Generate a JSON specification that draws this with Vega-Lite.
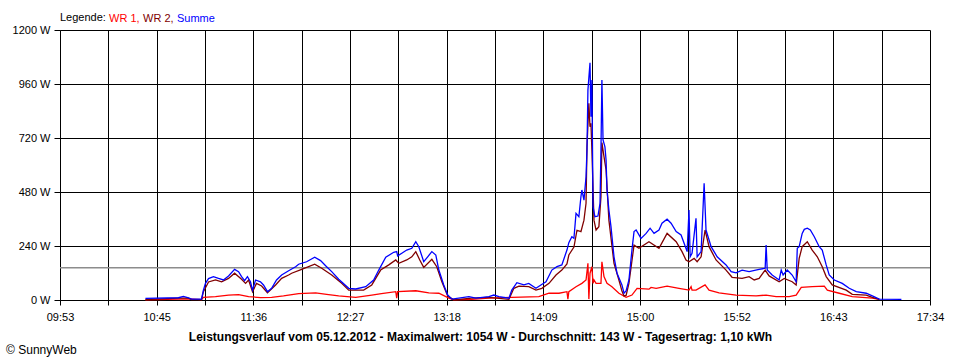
{
  "$schema": "https://vega.github.io/schema/vega-lite/v6.json",
  "width": 870,
  "height": 270,
  "autosize": {"type": "none"},
  "padding": {"left": 60, "top": 30, "right": 30, "bottom": 60},
  "background": "white",
  "config": {
    "font": "Liberation Sans",
    "view": {"stroke": null},
    "axis": {"labelFont": "Liberation Sans", "labelFontSize": 11, "labelColor": "#000", "tickColor": "#000", "domainColor": "#000", "gridColor": "#000", "gridOpacity": 1, "gridWidth": 1, "tickWidth": 1, "domainWidth": 1, "titleColor": "#000", "titleFont": "Liberation Sans"}
  },
  "title": {"text": "© SunnyWeb", "orient": "bottom", "anchor": "start", "frame": "bounds", "fontSize": 12, "fontWeight": "normal", "font": "Liberation Sans", "color": "#000", "offset": 3, "dx": -6},
  "datasets": {
    "avg": [{"t": 593.9, "w": 143}, {"t": 1054.34, "w": 143}],
    "p": [
      {"s":"WR 1","t":639.1,"w":1},{"s":"WR 1","t":656.6,"w":4},{"s":"WR 1","t":661.9,"w":5},{"s":"WR 1","t":668.8,"w":2},{"s":"WR 1","t":669.8,"w":12},{"s":"WR 1","t":676.2,"w":15},{"s":"WR 1","t":683.1,"w":22},{"s":"WR 1","t":688.4,"w":24},{"s":"WR 1","t":693.7,"w":15},{"s":"WR 1","t":700.0,"w":11},{"s":"WR 1","t":705.9,"w":12},{"s":"WR 1","t":712.2,"w":18},{"s":"WR 1","t":720.2,"w":28},{"s":"WR 1","t":729.2,"w":32},{"s":"WR 1","t":735.0,"w":25},{"s":"WR 1","t":741.4,"w":18},{"s":"WR 1","t":750.4,"w":12},{"s":"WR 1","t":758.9,"w":22},{"s":"WR 1","t":764.0,"w":28},{"s":"WR 1","t":771.6,"w":37},{"s":"WR 1","t":772.1,"w":8},{"s":"WR 1","t":772.6,"w":37},{"s":"WR 1","t":782.2,"w":41},{"s":"WR 1","t":789.1,"w":32},{"s":"WR 1","t":794.4,"w":30},{"s":"WR 1","t":799.7,"w":8},{"s":"WR 1","t":802.3,"w":1},{"s":"WR 1","t":811.8,"w":3},{"s":"WR 1","t":820.9,"w":8},{"s":"WR 1","t":833.0,"w":12},{"s":"WR 1","t":847.3,"w":15},{"s":"WR 1","t":852.7,"w":30},{"s":"WR 1","t":858.0,"w":30},{"s":"WR 1","t":862.2,"w":37},{"s":"WR 1","t":862.7,"w":4},{"s":"WR 1","t":863.2,"w":37},{"s":"WR 1","t":867.0,"w":59},{"s":"WR 1","t":870.1,"w":74},{"s":"WR 1","t":872.3,"w":89},{"s":"WR 1","t":873.3,"w":163},{"s":"WR 1","t":873.8,"w":4},{"s":"WR 1","t":874.4,"w":119},{"s":"WR 1","t":875.4,"w":148},{"s":"WR 1","t":876.0,"w":74},{"s":"WR 1","t":876.5,"w":89},{"s":"WR 1","t":877.6,"w":74},{"s":"WR 1","t":880.2,"w":74},{"s":"WR 1","t":880.7,"w":170},{"s":"WR 1","t":881.8,"w":104},{"s":"WR 1","t":883.4,"w":74},{"s":"WR 1","t":886.0,"w":59},{"s":"WR 1","t":889.7,"w":30},{"s":"WR 1","t":893.5,"w":12},{"s":"WR 1","t":896.6,"w":22},{"s":"WR 1","t":899.3,"w":52},{"s":"WR 1","t":905.6,"w":48},{"s":"WR 1","t":906.7,"w":56},{"s":"WR 1","t":909.4,"w":52},{"s":"WR 1","t":915.2,"w":62},{"s":"WR 1","t":921.5,"w":52},{"s":"WR 1","t":926.8,"w":44},{"s":"WR 1","t":927.9,"w":59},{"s":"WR 1","t":928.4,"w":44},{"s":"WR 1","t":930.5,"w":44},{"s":"WR 1","t":935.3,"w":67},{"s":"WR 1","t":937.4,"w":44},{"s":"WR 1","t":942.7,"w":32},{"s":"WR 1","t":951.7,"w":22},{"s":"WR 1","t":962.3,"w":18},{"s":"WR 1","t":967.6,"w":22},{"s":"WR 1","t":972.9,"w":15},{"s":"WR 1","t":979.8,"w":15},{"s":"WR 1","t":983.5,"w":22},{"s":"WR 1","t":986.2,"w":56},{"s":"WR 1","t":992.0,"w":59},{"s":"WR 1","t":998.4,"w":62},{"s":"WR 1","t":1000.0,"w":44},{"s":"WR 1","t":1006.3,"w":30},{"s":"WR 1","t":1013.2,"w":15},{"s":"WR 1","t":1023.8,"w":8},{"s":"WR 1","t":1027.5,"w":3},
      {"s":"WR 2","t":639.1,"w":2},{"s":"WR 2","t":656.6,"w":8},{"s":"WR 2","t":661.9,"w":8},{"s":"WR 2","t":663.5,"w":2},{"s":"WR 2","t":668.8,"w":2},{"s":"WR 2","t":669.8,"w":37},{"s":"WR 2","t":672.5,"w":80},{"s":"WR 2","t":676.2,"w":89},{"s":"WR 2","t":679.4,"w":81},{"s":"WR 2","t":683.1,"w":96},{"s":"WR 2","t":686.3,"w":119},{"s":"WR 2","t":690.0,"w":92},{"s":"WR 2","t":692.1,"w":74},{"s":"WR 2","t":693.7,"w":89},{"s":"WR 2","t":695.8,"w":37},{"s":"WR 2","t":697.9,"w":74},{"s":"WR 2","t":700.6,"w":62},{"s":"WR 2","t":703.7,"w":32},{"s":"WR 2","t":708.0,"w":67},{"s":"WR 2","t":711.2,"w":96},{"s":"WR 2","t":714.9,"w":111},{"s":"WR 2","t":716.5,"w":119},{"s":"WR 2","t":721.8,"w":136},{"s":"WR 2","t":728.7,"w":159},{"s":"WR 2","t":732.4,"w":141},{"s":"WR 2","t":737.7,"w":111},{"s":"WR 2","t":743.0,"w":74},{"s":"WR 2","t":746.7,"w":44},{"s":"WR 2","t":754.6,"w":44},{"s":"WR 2","t":758.9,"w":67},{"s":"WR 2","t":763.6,"w":133},{"s":"WR 2","t":767.9,"w":156},{"s":"WR 2","t":771.6,"w":178},{"s":"WR 2","t":773.2,"w":163},{"s":"WR 2","t":777.4,"w":178},{"s":"WR 2","t":780.1,"w":192},{"s":"WR 2","t":782.2,"w":215},{"s":"WR 2","t":784.3,"w":178},{"s":"WR 2","t":786.4,"w":145},{"s":"WR 2","t":790.7,"w":181},{"s":"WR 2","t":793.3,"w":148},{"s":"WR 2","t":796.0,"w":81},{"s":"WR 2","t":799.1,"w":18},{"s":"WR 2","t":802.3,"w":1},{"s":"WR 2","t":811.8,"w":8},{"s":"WR 2","t":820.9,"w":12},{"s":"WR 2","t":831.5,"w":3},{"s":"WR 2","t":834.1,"w":52},{"s":"WR 2","t":836.8,"w":62},{"s":"WR 2","t":842.0,"w":59},{"s":"WR 2","t":845.8,"w":44},{"s":"WR 2","t":848.9,"w":52},{"s":"WR 2","t":852.7,"w":74},{"s":"WR 2","t":856.4,"w":111},{"s":"WR 2","t":859.5,"w":133},{"s":"WR 2","t":862.2,"w":160},{"s":"WR 2","t":863.2,"w":200},{"s":"WR 2","t":865.9,"w":235},{"s":"WR 2","t":867.5,"w":310},{"s":"WR 2","t":869.6,"w":304},{"s":"WR 2","t":871.2,"w":355},{"s":"WR 2","t":872.3,"w":430},{"s":"WR 2","t":872.8,"w":681},{"s":"WR 2","t":873.8,"w":874},{"s":"WR 2","t":874.4,"w":770},{"s":"WR 2","t":874.9,"w":785},{"s":"WR 2","t":875.4,"w":667},{"s":"WR 2","t":876.5,"w":355},{"s":"WR 2","t":877.6,"w":311},{"s":"WR 2","t":879.1,"w":326},{"s":"WR 2","t":880.2,"w":459},{"s":"WR 2","t":880.7,"w":700},{"s":"WR 2","t":881.8,"w":637},{"s":"WR 2","t":882.9,"w":578},{"s":"WR 2","t":884.4,"w":355},{"s":"WR 2","t":887.1,"w":163},{"s":"WR 2","t":889.7,"w":89},{"s":"WR 2","t":891.3,"w":40},{"s":"WR 2","t":892.4,"w":18},{"s":"WR 2","t":893.5,"w":20},{"s":"WR 2","t":895.0,"w":74},{"s":"WR 2","t":897.7,"w":244},{"s":"WR 2","t":900.3,"w":230},{"s":"WR 2","t":905.6,"w":259},{"s":"WR 2","t":910.9,"w":230},{"s":"WR 2","t":915.2,"w":296},{"s":"WR 2","t":920.0,"w":259},{"s":"WR 2","t":923.1,"w":215},{"s":"WR 2","t":925.2,"w":178},{"s":"WR 2","t":926.8,"w":170},{"s":"WR 2","t":929.5,"w":185},{"s":"WR 2","t":931.1,"w":170},{"s":"WR 2","t":933.2,"w":192},{"s":"WR 2","t":935.3,"w":311},{"s":"WR 2","t":937.4,"w":237},{"s":"WR 2","t":941.1,"w":178},{"s":"WR 2","t":946.4,"w":133},{"s":"WR 2","t":949.6,"w":101},{"s":"WR 2","t":954.9,"w":96},{"s":"WR 2","t":958.6,"w":104},{"s":"WR 2","t":961.3,"w":89},{"s":"WR 2","t":963.9,"w":96},{"s":"WR 2","t":967.1,"w":133},{"s":"WR 2","t":969.2,"w":107},{"s":"WR 2","t":974.5,"w":81},{"s":"WR 2","t":977.2,"w":96},{"s":"WR 2","t":981.4,"w":81},{"s":"WR 2","t":983.5,"w":67},{"s":"WR 2","t":985.1,"w":185},{"s":"WR 2","t":986.7,"w":237},{"s":"WR 2","t":989.4,"w":259},{"s":"WR 2","t":992.0,"w":222},{"s":"WR 2","t":994.7,"w":192},{"s":"WR 2","t":997.3,"w":148},{"s":"WR 2","t":999.4,"w":104},{"s":"WR 2","t":1002.6,"w":67},{"s":"WR 2","t":1010.0,"w":44},{"s":"WR 2","t":1013.2,"w":25},{"s":"WR 2","t":1020.6,"w":22},{"s":"WR 2","t":1023.8,"w":12},{"s":"WR 2","t":1027.5,"w":3},
      {"s":"Summe","t":639.1,"w":7},{"s":"Summe","t":656.6,"w":10},{"s":"Summe","t":659.2,"w":16},{"s":"Summe","t":661.9,"w":10},{"s":"Summe","t":663.5,"w":4},{"s":"Summe","t":668.8,"w":4},{"s":"Summe","t":669.8,"w":44},{"s":"Summe","t":670.9,"w":74},{"s":"Summe","t":672.5,"w":95},{"s":"Summe","t":675.1,"w":104},{"s":"Summe","t":677.8,"w":96},{"s":"Summe","t":680.4,"w":89},{"s":"Summe","t":683.1,"w":107},{"s":"Summe","t":686.3,"w":136},{"s":"Summe","t":688.4,"w":126},{"s":"Summe","t":690.0,"w":104},{"s":"Summe","t":691.6,"w":86},{"s":"Summe","t":693.1,"w":104},{"s":"Summe","t":694.7,"w":81},{"s":"Summe","t":695.8,"w":44},{"s":"Summe","t":697.4,"w":89},{"s":"Summe","t":700.0,"w":81},{"s":"Summe","t":701.6,"w":67},{"s":"Summe","t":703.7,"w":37},{"s":"Summe","t":705.9,"w":52},{"s":"Summe","t":708.5,"w":89},{"s":"Summe","t":711.2,"w":111},{"s":"Summe","t":714.9,"w":130},{"s":"Summe","t":718.6,"w":148},{"s":"Summe","t":720.2,"w":159},{"s":"Summe","t":724.4,"w":170},{"s":"Summe","t":728.7,"w":190},{"s":"Summe","t":731.8,"w":175},{"s":"Summe","t":735.0,"w":148},{"s":"Summe","t":737.7,"w":126},{"s":"Summe","t":741.4,"w":92},{"s":"Summe","t":746.7,"w":52},{"s":"Summe","t":750.4,"w":49},{"s":"Summe","t":755.7,"w":59},{"s":"Summe","t":759.9,"w":89},{"s":"Summe","t":762.6,"w":133},{"s":"Summe","t":766.3,"w":190},{"s":"Summe","t":770.5,"w":212},{"s":"Summe","t":772.1,"w":215},{"s":"Summe","t":772.6,"w":196},{"s":"Summe","t":774.8,"w":208},{"s":"Summe","t":777.4,"w":222},{"s":"Summe","t":780.1,"w":230},{"s":"Summe","t":782.2,"w":259},{"s":"Summe","t":783.8,"w":237},{"s":"Summe","t":786.4,"w":170},{"s":"Summe","t":788.5,"w":192},{"s":"Summe","t":790.7,"w":215},{"s":"Summe","t":792.8,"w":200},{"s":"Summe","t":794.4,"w":133},{"s":"Summe","t":797.0,"w":67},{"s":"Summe","t":799.1,"w":22},{"s":"Summe","t":801.3,"w":4},{"s":"Summe","t":810.3,"w":15},{"s":"Summe","t":814.0,"w":8},{"s":"Summe","t":820.9,"w":15},{"s":"Summe","t":823.5,"w":22},{"s":"Summe","t":826.2,"w":15},{"s":"Summe","t":831.5,"w":8},{"s":"Summe","t":833.0,"w":44},{"s":"Summe","t":835.7,"w":77},{"s":"Summe","t":839.4,"w":67},{"s":"Summe","t":842.0,"w":74},{"s":"Summe","t":845.8,"w":52},{"s":"Summe","t":848.4,"w":67},{"s":"Summe","t":851.1,"w":81},{"s":"Summe","t":854.2,"w":133},{"s":"Summe","t":856.9,"w":148},{"s":"Summe","t":859.5,"w":156},{"s":"Summe","t":862.2,"w":222},{"s":"Summe","t":863.2,"w":255},{"s":"Summe","t":864.8,"w":281},{"s":"Summe","t":865.9,"w":274},{"s":"Summe","t":867.0,"w":385},{"s":"Summe","t":868.5,"w":370},{"s":"Summe","t":869.6,"w":459},{"s":"Summe","t":870.1,"w":489},{"s":"Summe","t":871.2,"w":444},{"s":"Summe","t":872.3,"w":548},{"s":"Summe","t":872.8,"w":667},{"s":"Summe","t":873.3,"w":933},{"s":"Summe","t":874.4,"w":1054},{"s":"Summe","t":874.9,"w":815},{"s":"Summe","t":875.4,"w":978},{"s":"Summe","t":876.0,"w":415},{"s":"Summe","t":877.0,"w":370},{"s":"Summe","t":878.6,"w":373},{"s":"Summe","t":879.7,"w":430},{"s":"Summe","t":880.2,"w":667},{"s":"Summe","t":880.7,"w":978},{"s":"Summe","t":881.3,"w":711},{"s":"Summe","t":882.3,"w":681},{"s":"Summe","t":882.9,"w":622},{"s":"Summe","t":883.4,"w":489},{"s":"Summe","t":884.4,"w":400},{"s":"Summe","t":885.5,"w":326},{"s":"Summe","t":887.1,"w":192},{"s":"Summe","t":888.7,"w":119},{"s":"Summe","t":891.3,"w":67},{"s":"Summe","t":892.4,"w":30},{"s":"Summe","t":893.5,"w":40},{"s":"Summe","t":895.0,"w":89},{"s":"Summe","t":896.6,"w":222},{"s":"Summe","t":897.7,"w":304},{"s":"Summe","t":898.8,"w":311},{"s":"Summe","t":901.4,"w":274},{"s":"Summe","t":904.1,"w":296},{"s":"Summe","t":906.2,"w":319},{"s":"Summe","t":908.3,"w":296},{"s":"Summe","t":910.9,"w":311},{"s":"Summe","t":912.5,"w":341},{"s":"Summe","t":915.2,"w":359},{"s":"Summe","t":917.3,"w":341},{"s":"Summe","t":920.0,"w":304},{"s":"Summe","t":922.6,"w":289},{"s":"Summe","t":924.2,"w":252},{"s":"Summe","t":925.8,"w":215},{"s":"Summe","t":926.8,"w":400},{"s":"Summe","t":927.4,"w":192},{"s":"Summe","t":928.4,"w":208},{"s":"Summe","t":930.5,"w":363},{"s":"Summe","t":931.1,"w":192},{"s":"Summe","t":933.2,"w":215},{"s":"Summe","t":934.8,"w":519},{"s":"Summe","t":935.8,"w":311},{"s":"Summe","t":938.5,"w":237},{"s":"Summe","t":941.7,"w":192},{"s":"Summe","t":946.4,"w":156},{"s":"Summe","t":949.1,"w":126},{"s":"Summe","t":951.7,"w":121},{"s":"Summe","t":954.9,"w":133},{"s":"Summe","t":958.6,"w":126},{"s":"Summe","t":963.9,"w":136},{"s":"Summe","t":967.1,"w":141},{"s":"Summe","t":967.6,"w":244},{"s":"Summe","t":968.2,"w":133},{"s":"Summe","t":970.8,"w":111},{"s":"Summe","t":974.5,"w":89},{"s":"Summe","t":975.6,"w":133},{"s":"Summe","t":976.6,"w":111},{"s":"Summe","t":978.8,"w":133},{"s":"Summe","t":981.4,"w":111},{"s":"Summe","t":983.5,"w":81},{"s":"Summe","t":984.1,"w":230},{"s":"Summe","t":985.1,"w":237},{"s":"Summe","t":986.7,"w":296},{"s":"Summe","t":987.8,"w":314},{"s":"Summe","t":989.4,"w":319},{"s":"Summe","t":991.0,"w":311},{"s":"Summe","t":993.1,"w":281},{"s":"Summe","t":995.7,"w":237},{"s":"Summe","t":997.3,"w":222},{"s":"Summe","t":999.4,"w":156},{"s":"Summe","t":1001.0,"w":111},{"s":"Summe","t":1003.7,"w":89},{"s":"Summe","t":1007.9,"w":74},{"s":"Summe","t":1011.6,"w":52},{"s":"Summe","t":1015.3,"w":37},{"s":"Summe","t":1020.6,"w":30},{"s":"Summe","t":1023.8,"w":18},{"s":"Summe","t":1027.5,"w":4},{"s":"Summe","t":1039.2,"w":3}
    ]
  },
  "encoding": {
    "x": {
      "field": "t", "type": "quantitative",
      "scale": {"domain": [593.9, 1054.34], "nice": false, "zero": false},
      "axis": {
        "values": [593.9, 619.48, 645.06, 670.64, 696.22, 721.8, 747.38, 772.96, 798.54, 824.12, 849.7, 875.28, 900.86, 926.44, 952.02, 977.6, 1003.18, 1028.76, 1054.34],
        "labelExpr": "round((datum.value - 593.9) / 25.58) % 2 == 0 ? timeFormat(datetime(2012, 11, 5, 0, floor(datum.value + 0.001)), '%H:%M') : ''",
        "labelFlush": false, "labelOverlap": false, "tickSize": 5, "labelPadding": 6, "grid": true,
        "title": "Leistungsverlauf vom 05.12.2012 - Maximalwert: 1054 W - Durchschnitt: 143 W - Tagesertrag: 1,10 kWh",
        "titleFontWeight": "bold", "titleFontSize": 12, "titlePadding": 9, "titleX": 420
      }
    },
    "y": {
      "field": "w", "type": "quantitative",
      "scale": {"domain": [0, 1200], "nice": false},
      "axis": {"values": [0, 240, 480, 720, 960, 1200], "labelExpr": "datum.value + ' W'", "tickSize": 6, "labelPadding": 4, "grid": true, "title": null}
    }
  },
  "layer": [
    {"data": {"name": "avg"}, "mark": {"type": "line", "color": "#8c8c8c", "strokeWidth": 1.5}},
    {
      "data": {"name": "p"},
      "transform": [{"filter": "datum.s == 'WR 1'"}],
      "mark": {"type": "line", "strokeWidth": 1.3},
      "encoding": {
        "color": {
          "field": "s", "type": "nominal",
          "scale": {"domain": ["WR 1", "WR 2", "Summe"], "range": ["#ff0000", "#800000", "#0000ff"]},
          "legend": {
            "title": "Legende:", "orient": "top", "direction": "horizontal", "titleOrient": "left",
            "symbolSize": 1, "symbolOpacity": 0, "symbolStrokeWidth": 0, "symbolOffset": 0, "labelOffset": -11,
            "columnPadding": 3, "titlePadding": 3, "offset": 6, "padding": 0,
            "labelFont": "Liberation Sans", "labelFontSize": 11, "titleFont": "Liberation Sans", "titleFontSize": 11, "titleFontWeight": "normal", "titleColor": "#000",
            "labelExpr": "datum.label == 'Summe' ? datum.label : datum.label + ','",
            "encode": {"labels": {"update": {"fill": {"scale": "color", "field": "value"}}}}
          }
        }
      }
    },
    {
      "data": {"name": "p"},
      "transform": [{"filter": "datum.s == 'WR 2'"}],
      "mark": {"type": "line", "strokeWidth": 1.3},
      "encoding": {"color": {"field": "s", "type": "nominal"}}
    },
    {
      "data": {"name": "p"},
      "transform": [{"filter": "datum.s == 'Summe'"}],
      "mark": {"type": "line", "strokeWidth": 1.3},
      "encoding": {"color": {"field": "s", "type": "nominal"}}
    }
  ]
}
